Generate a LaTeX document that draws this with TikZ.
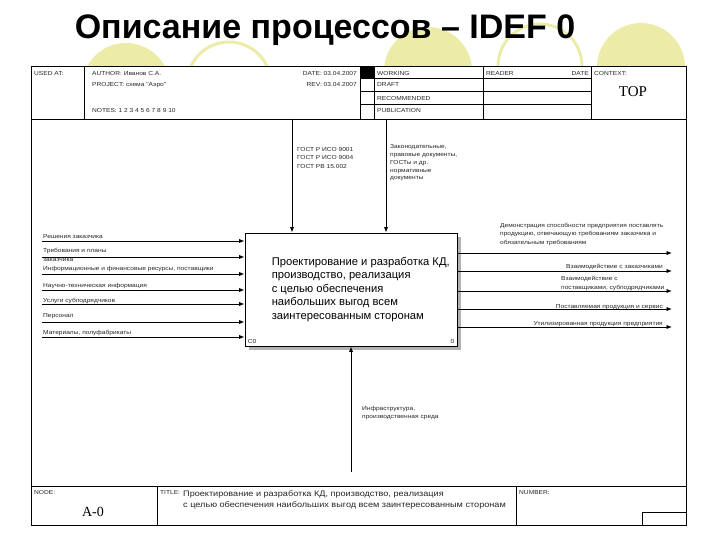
\documentclass[tikz,border=0pt]{standalone}
\usepackage{fontspec}
\setmainfont{Liberation Sans}
\newfontfamily\tmsfont{Liberation Serif}
\newfontfamily\widesans[FakeStretch=1.14]{Liberation Sans}
\usetikzlibrary{positioning, arrows.meta, shadows}
\definecolor{slideyellow}{RGB}{236,236,168}

\begin{document}
\begin{tikzpicture}[
    x=1pt, y=-1pt,
    lbl/.style={font=\widesans\fontsize{5.8}{8}\selectfont, text=black!85, inner sep=0pt, align=left, anchor=base west},
    hdr/.style={font=\widesans\fontsize{5.8}{6}\selectfont, text=black!85, inner sep=0pt, anchor=base west},
    func/.style={draw, line width=0.9pt, fill=white, minimum width=212pt, minimum height=113pt, inner sep=0pt,
      drop shadow={shadow xshift=4pt, shadow yshift=-4pt, fill=gray!60, opacity=1}},
    flow/.style={-{Latex[length=5.5pt,width=4.2pt]}, line width=0.8pt},
    rule/.style={line width=0.5pt}
  ]
  \useasboundingbox (0,0) rectangle (720,540);

  % Slide decoration
  \fill[slideyellow] (126,87) circle (44pt);
  \draw[slideyellow, line width=3pt] (229,84) circle (42pt);
  \fill[slideyellow] (428,71) circle (44pt);
  \draw[slideyellow, line width=3pt] (540,66) circle (42pt);
  \fill[slideyellow] (641,67) circle (44pt);

  % Title
  \node[font=\bfseries\fontsize{34}{34}\selectfont, anchor=base] (title) at (325,39) {Описание процессов – IDEF 0};

  % Frame
  \draw[fill=white, line width=0.8pt] (31,66) rectangle (686,525);
  \draw[rule] (31,119) -- (686,119);
  \draw[rule] (31,486) -- (686,486);
  \draw[rule] (84,66) -- (84,119);
  \draw[rule] (360,66) -- (360,119);
  \draw[rule] (374,66) -- (374,119);
  \draw[rule] (483,66) -- (483,119);
  \draw[rule] (591,66) -- (591,119);
  \fill (360,66) rectangle (374,78.5);
  \draw[rule] (360,78.5) -- (591,78.5);
  \draw[rule] (360,91.5) -- (591,91.5);
  \draw[rule] (360,104.5) -- (591,104.5);
  \draw[rule] (157,486) -- (157,525);
  \draw[rule] (516,486) -- (516,525);
  \draw[rule] (642,525) -- (642,512) -- (686,512);

  % Header texts
  \node[hdr] (usedat) at (34,76) {USED AT:};
  \node[hdr] (author) at (92,76) {AUTHOR: Иванов С.А.};
  \node[hdr] (project) at (92,86.5) {PROJECT: схема "Аэро"};
  \node[hdr] (notes) at (92,113) {NOTES: 1 2 3 4 5 6 7 8 9 10};
  \node[hdr, anchor=base east] (date) at (357,76) {DATE: 03.04.2007};
  \node[hdr, anchor=base east] (rev) at (357,86.5) {REV: 03.04.2007};
  \node[hdr] (working) at (377,75.5) {WORKING};
  \node[hdr] (draft) at (377,87) {DRAFT};
  \node[hdr] (recommended) at (377,100.5) {RECOMMENDED};
  \node[hdr] (publication) at (377,113) {PUBLICATION};
  \node[hdr] (reader) at (486,75.5) {READER};
  \node[hdr, anchor=base east] (rdate) at (589,75.5) {DATE};
  \node[hdr] (context) at (594,75.5) {CONTEXT:};
  \node[font=\tmsfont\fontsize{15}{15}\selectfont, inner sep=0pt] (top) at (633,92) {TOP};

  % Footer texts
  \node[hdr] (nodelbl) at (34,494) {NODE:};
  \node[font=\tmsfont\fontsize{14}{14}\selectfont, inner sep=0pt] (nodeno) at (93,512) {A-0};
  \node[hdr] (titlelbl) at (160,494) {TITLE:};
  \node[lbl, font=\widesans\fontsize{8}{11}\selectfont] (titletxt) at (183,507) {Проектирование и разработка КД, производство, реализация\\с целью обеспечения наибольших выгод всем заинтересованным сторонам};
  \node[hdr] (numberlbl) at (519,494) {NUMBER:};

  % Function box
  \node[func] (func) at (351,289.5) {};
  \node[font=\fontsize{11.2}{13.5}\selectfont, align=left, inner sep=0pt, right=27pt of func.west] (functext)
    {Проектирование и разработка КД,\\производство, реализация\\с целью обеспечения\\наибольших выгод всем\\заинтересованным сторонам};
  \node[hdr, anchor=south west] (fcode) at ([shift={(3pt,3pt)}]func.south west) {C0};
  \node[hdr, anchor=south east] (fnum) at ([shift={(-3pt,3pt)}]func.south east) {0};

  % Inputs
  \coordinate (in1) at (42,241);
  \coordinate (in2) at (42,257);
  \coordinate (in3) at (42,274);
  \coordinate (in4) at (42,290);
  \coordinate (in5) at (42,304);
  \coordinate (in6) at (42,322);
  \coordinate (in7) at (42,337);
  \draw[flow] (in1) -- (in1 -| func.west);
  \draw[flow] (in2) -- (in2 -| func.west);
  \draw[flow] (in3) -- (in3 -| func.west);
  \draw[flow] (in4) -- (in4 -| func.west);
  \draw[flow] (in5) -- (in5 -| func.west);
  \draw[flow] (in6) -- (in6 -| func.west);
  \draw[flow] (in7) -- (in7 -| func.west);
  \node[lbl] (inlbl1) at (43,238.5) {Решения заказчика};
  \node[lbl, font=\widesans\fontsize{5.8}{9}\selectfont] (inlbl2) at (43,261) {Требования и планы\\заказчика};
  \node[lbl] (inlbl3) at (43,270) {Информационные и финансовые ресурсы, поставщики};
  \node[lbl] (inlbl4) at (43,287) {Научно-техническая информация};
  \node[lbl] (inlbl5) at (43,302) {Услуги субподрядчиков};
  \node[lbl] (inlbl6) at (43,317) {Персонал};
  \node[lbl] (inlbl7) at (43,334) {Материалы, полуфабрикаты};

  % Controls
  \coordinate (ctl1) at (292,119);
  \coordinate (ctl2) at (386,119);
  \draw[flow] (ctl1) -- (ctl1 |- func.north);
  \draw[flow] (ctl2) -- (ctl2 |- func.north);
  \node[lbl, font=\widesans\fontsize{5.8}{8.6}\selectfont] (ctllbl1) at (297,168.5) {ГОСТ Р ИСО 9001\\ГОСТ Р ИСО 9004\\ГОСТ РВ 15.002};
  \node[lbl, font=\widesans\fontsize{5.8}{7.9}\selectfont] (ctllbl2) at (390,180) {Законодательные,\\правовые документы,\\ГОСТы и др.\\нормативные\\документы};

  % Outputs
  \coordinate (out1) at (672,253);
  \coordinate (out2) at (672,271);
  \coordinate (out3) at (672,291);
  \coordinate (out4) at (672,309);
  \coordinate (out5) at (672,327);
  \draw[flow] (out1 -| func.east) -- (out1);
  \draw[flow] (out2 -| func.east) -- (out2);
  \draw[flow] (out3 -| func.east) -- (out3);
  \draw[flow] (out4 -| func.east) -- (out4);
  \draw[flow] (out5 -| func.east) -- (out5);
  \node[lbl, font=\widesans\fontsize{5.8}{8.5}\selectfont] (outlbl1) at (500,244) {Демонстрация способности предприятия поставлять\\продукцию, отвечающую требованиям заказчика и\\обязательным требованиям};
  \node[lbl, anchor=base east] (outlbl2) at (663,268.5) {Взаимодействие с заказчиками};
  \node[lbl, font=\widesans\fontsize{5.8}{9}\selectfont] (outlbl3) at (561,289) {Взаимодействие с\\поставщиками, субподрядчиками};
  \node[lbl, anchor=base east] (outlbl4) at (663,308) {Поставляемая продукция и сервис};
  \node[lbl, anchor=base east] (outlbl5) at (663,325) {Утилизированная продукция предприятия};

  % Mechanism
  \coordinate (mech) at (351,472);
  \draw[flow] (mech) -- (mech |- func.south);
  \node[lbl] (mechlbl) at (362,418) {Инфраструктура,\\производственная среда};
\end{tikzpicture}
\end{document}
